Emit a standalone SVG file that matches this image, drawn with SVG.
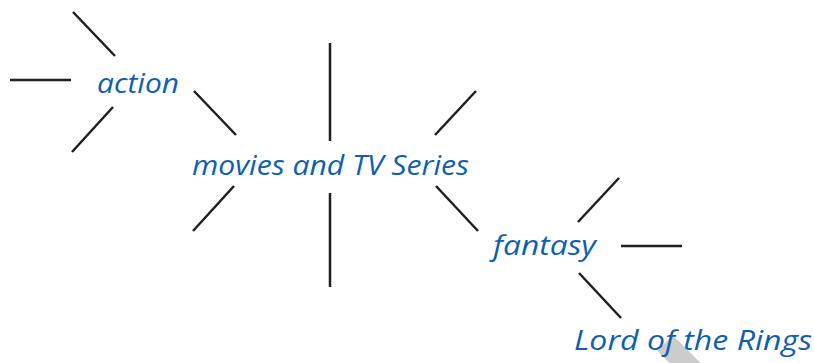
<svg xmlns="http://www.w3.org/2000/svg" width="814" height="363" viewBox="0 0 814 363">
<style>
.l{stroke:#1f1f1f;stroke-width:2.5;fill:none;stroke-linecap:butt}
.t{font-family:"Open Sans","DejaVu Sans",sans-serif;font-style:italic;fill:#0f5fb0;font-size:27px}
</style>
<rect width="814" height="363" fill="#ffffff"/>
<line x1="665" y1="343" x2="697" y2="375" stroke="#cccccc" stroke-width="22"/>
<g id="connectors">
<line class="l" x1="73" y1="12" x2="115" y2="56"/>
<line class="l" x1="10" y1="80" x2="71" y2="80"/>
<line class="l" x1="113" y1="107" x2="72" y2="152"/>
<line class="l" x1="194" y1="91" x2="236" y2="135"/>
<line class="l" x1="330" y1="43" x2="330" y2="141"/>
<line class="l" x1="330" y1="193" x2="330" y2="287"/>
<line class="l" x1="234" y1="186" x2="193" y2="231"/>
<line class="l" x1="476" y1="91" x2="435" y2="135"/>
<line class="l" x1="436" y1="186" x2="478" y2="231"/>
<line class="l" x1="619" y1="178" x2="578" y2="222"/>
<line class="l" x1="621" y1="246" x2="682" y2="246"/>
<line class="l" x1="579" y1="273" x2="621" y2="318"/>
</g>
<g id="action"><text class="t" x="97" y="93" textLength="82" lengthAdjust="spacingAndGlyphs">action</text></g>
<g id="movies"><text class="t" x="192" y="175" textLength="277" lengthAdjust="spacingAndGlyphs">movies and TV Series</text></g>
<g id="fantasy"><text class="t" x="493" y="255" textLength="103" lengthAdjust="spacingAndGlyphs">fantasy</text></g>
<g id="lotr"><text class="t" x="574" y="350" textLength="238" lengthAdjust="spacingAndGlyphs">Lord of the Rings</text></g>
</svg>
